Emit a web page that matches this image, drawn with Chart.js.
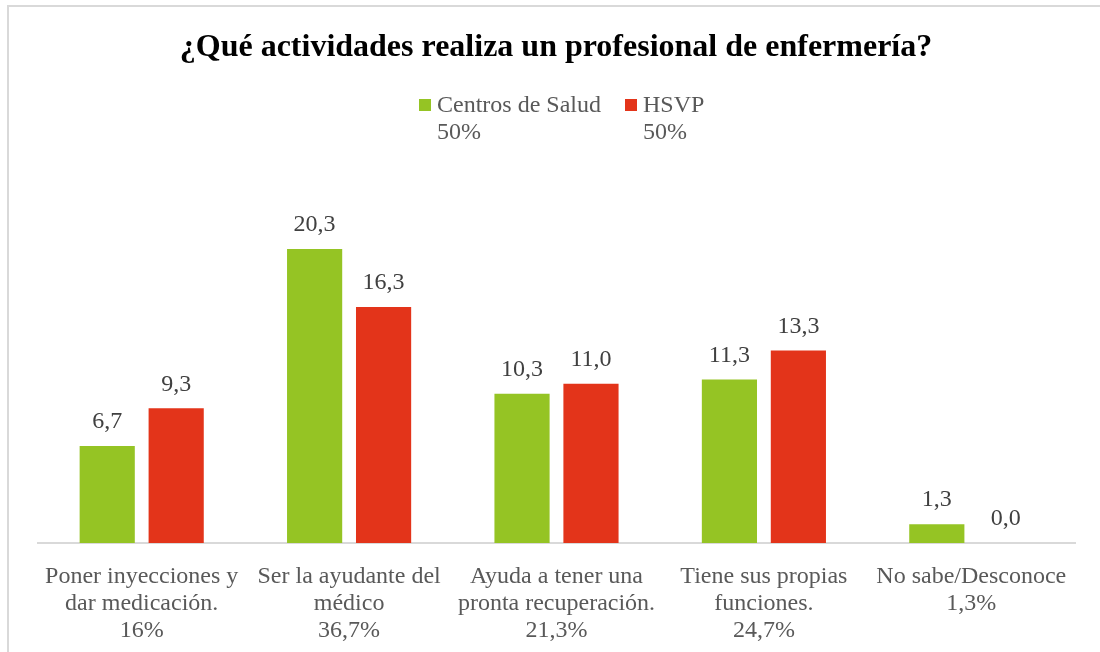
<!DOCTYPE html>
<html>
<head>
<meta charset="utf-8">
<script src="https://cdn.jsdelivr.net/npm/chart.js@4/dist/chart.umd.min.js"></script>
<style>
  html, body { margin: 0; background: #fff; overflow: hidden; width: 1100px; height: 652px; }
  #frame { position: absolute; left: 7px; top: 5px; width: 1200px; height: 700px; border: 2px solid #d9d9d9; }
  #statChart { position: absolute; left: 0; top: 0; }
</style>
</head>
<body>
<div id="frame"></div>
<canvas id="statChart" width="1100" height="652"></canvas>
<script>
'use strict';

const categories = [
  ['Poner inyecciones y', 'dar medicación.', '16%'],
  ['Ser la ayudante del', 'médico', '36,7%'],
  ['Ayuda a tener una', 'pronta recuperación.', '21,3%'],
  ['Tiene sus propias', 'funciones.', '24,7%'],
  ['No sabe/Desconoce', '1,3%'],
];
const centrosSalud = [6.7, 20.3, 10.3, 11.3, 1.3];
const hsvp = [9.3, 16.3, 11.0, 13.3, 0.0];
const seriesNames = [['Centros de Salud', '50%'], ['HSVP', '50%']];
const titleText = '¿Qué actividades realiza un profesional de enfermería?';

const serif = '"Liberation Serif", "Times New Roman", serif';
const ctx = document.getElementById('statChart');

// value labels above each bar
const valueLabels = {
  id: 'valueLabels',
  afterDatasetsDraw(chart) {
    const c = chart.ctx;
    c.save();
    c.font = '24px ' + serif;
    c.fillStyle = '#404040';
    c.textAlign = 'center';
    c.textBaseline = 'middle';
    chart.data.datasets.forEach((ds, i) => {
      chart.getDatasetMeta(i).data.forEach((bar, j) => {
        c.fillText(ds.data[j].toFixed(1).replace('.', ','), bar.x, bar.y - 24);
      });
    });
    c.restore();
  },
};

// title + two-line legend
const header = {
  id: 'header',
  afterDraw(chart) {
    const c = chart.ctx;
    c.save();
    c.fillStyle = '#000';
    c.font = 'bold 32px ' + serif;
    c.textAlign = 'center';
    c.textBaseline = 'middle';
    c.fillText(titleText, 556, 48);

    c.font = '24px ' + serif;
    c.textAlign = 'left';
    const starts = [419, 625];
    chart.data.datasets.forEach((ds, i) => {
      const x = starts[i];
      c.fillStyle = ds.backgroundColor;
      c.fillRect(x, 99, 12, 12);
      c.fillStyle = '#595959';
      seriesNames[i].forEach((line, k) => {
        c.fillText(line, x + 18, 106 + k * 27);
      });
    });
    c.restore();
  },
};

new Chart(ctx, {
  type: 'bar',
  data: {
    labels: categories,
    datasets: [
      { label: 'Centros de Salud', data: centrosSalud, backgroundColor: '#95c424' },
      { label: 'HSVP', data: hsvp, backgroundColor: '#e3341a' },
    ],
  },
  options: {
    responsive: false,
    animation: false,
    layout: { padding: { top: 181, left: 38, right: 25, bottom: 0 } },
    categoryPercentage: 0.665,
    barPercentage: 0.8,
    plugins: {
      legend: { display: false },
      title: { display: false },
      tooltip: { enabled: false },
    },
    scales: {
      x: {
        grid: { display: false },
        border: { display: true, color: '#d9d9d9', width: 2 },
        ticks: {
          color: '#595959',
          font: { family: serif, size: 24, lineHeight: 1.125 },
          padding: 12,
          maxRotation: 0,
          autoSkip: false,
        },
        afterFit(scale) { scale.height = 109; },
      },
      y: {
        display: false,
        min: 0,
        max: 25,
      },
    },
  },
  plugins: [valueLabels, header],
});
</script>
</body>
</html>
